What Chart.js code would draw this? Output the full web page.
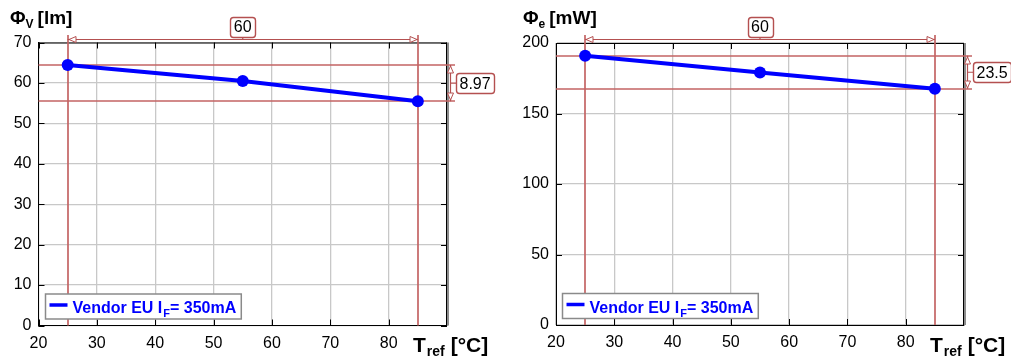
<!DOCTYPE html>
<html>
<head>
<meta charset="utf-8">
<script src="https://cdn.jsdelivr.net/npm/chart.js@4.4.1/dist/chart.umd.min.js"></script>
<style>
  html, body { margin: 0; padding: 0; background: #fff; }
  #wrap { position: relative; width: 1011px; height: 358px; overflow: hidden; }
  .pane { position: absolute; top: 0; width: 505px; height: 358px; }
</style>
</head>
<body>
<div id="wrap">
  <div class="pane" style="left:0"><canvas id="lum" width="505" height="358"></canvas></div>
  <div class="pane" style="left:506px"><canvas id="rad" width="505" height="358"></canvas></div>
</div>
<script>
  // measured points (reference temperature vs flux)
  var temps = [25, 55, 85];
  var fluxV = [64.42, 60.45, 55.45];   // lm
  var fluxE = [191.0, 179.0, 167.5];   // mW

  var xTicks = [20, 30, 40, 50, 60, 70, 80];
  var lumTicks = [0, 10, 20, 30, 40, 50, 60, 70];
  var radTicks = [0, 50, 100, 150, 200];

  var seriesName = ['Vendor EU I', 'F', '= 350mA'];
  var dimSpan = '60';
  var dimLum = '8.97';
  var dimRad = '23.5';

  var RED = 'rgb(196,100,100)';
  var RED_LIGHT = 'rgb(180,80,80)';
  var FONT = '"Liberation Sans", Arial, sans-serif';

  function richText(ctx, parts, x, y) {
    parts.forEach(function (p) {
      ctx.font = p.font;
      ctx.fillText(p.t, x, y + (p.dy || 0));
      x += ctx.measureText(p.t).width + (p.gap || 0);
    });
    return x;
  }

  function labelBox(ctx, text, cx, cy) {
    ctx.font = '16px ' + FONT;
    var w = ctx.measureText(text).width + 7, h = 20;
    ctx.beginPath();
    ctx.roundRect(Math.round(cx - w / 2) + 0.5, Math.round(cy - h / 2) + 0.5, Math.round(w), h, 3);
    ctx.fillStyle = '#fff';
    ctx.fill();
    ctx.strokeStyle = RED_LIGHT;
    ctx.lineWidth = 1.4;
    ctx.stroke();
    ctx.fillStyle = '#000';
    ctx.textAlign = 'center';
    ctx.textBaseline = 'middle';
    ctx.fillText(text, cx, cy + 1);
    return w;
  }

  function arrow(ctx, tx, ty, dx, dy) {
    // open triangle, tip at (tx,ty), pointing in direction (dx,dy)
    var len = 7, half = 3;
    var bx = tx - dx * len, by = ty - dy * len;
    ctx.beginPath();
    ctx.moveTo(tx, ty);
    ctx.lineTo(bx - dy * half, by + dx * half);
    ctx.lineTo(bx + dy * half, by - dx * half);
    ctx.closePath();
    ctx.fillStyle = '#fff';
    ctx.fill();
    ctx.strokeStyle = RED_LIGHT;
    ctx.lineWidth = 1;
    ctx.stroke();
  }

  function endPoints(chart) {
    var xs = chart.scales.x, ys = chart.scales.y;
    var vals = chart.data.datasets[0].data.map(function (d) { return d.y; });
    return {
      x0: xs.getPixelForValue(temps[0]),
      x1: xs.getPixelForValue(temps[temps.length - 1]),
      y0: ys.getPixelForValue(vals[0]),
      y1: ys.getPixelForValue(vals[vals.length - 1])
    };
  }

  var refPlugin = {
    id: 'refLines',
    beforeDatasetsDraw: function (chart, args, o) {
      var ctx = chart.ctx, a = chart.chartArea;
      var xs = chart.scales.x, ys = chart.scales.y;
      var p = endPoints(chart);
      ctx.save();

      // frame top/right + inner tick marks
      ctx.strokeStyle = '#000';
      ctx.lineWidth = 1;
      ctx.beginPath();
      ctx.moveTo(a.left, a.top + 0.5); ctx.lineTo(a.right, a.top + 0.5);
      ctx.moveTo(a.right - 0.5, a.top); ctx.lineTo(a.right - 0.5, a.bottom);
      xTicks.forEach(function (v) {
        var px = Math.round(xs.getPixelForValue(v)) + 0.5;
        ctx.moveTo(px, a.top); ctx.lineTo(px, a.top + 6);
        ctx.moveTo(px, a.bottom); ctx.lineTo(px, a.bottom - 6);
      });
      ys.ticks.forEach(function (t) {
        var py = Math.round(ys.getPixelForValue(t.value)) + 0.5;
        ctx.moveTo(a.left, py); ctx.lineTo(a.left + 6, py);
        ctx.moveTo(a.right, py); ctx.lineTo(a.right - 6, py);
      });
      ctx.stroke();
      ctx.strokeStyle = '#8c8c8c';
      ctx.lineWidth = 2;
      ctx.beginPath();
      ctx.moveTo(a.right + 1, a.top); ctx.lineTo(a.right + 1, a.bottom);
      ctx.stroke();

      // reference lines
      ctx.strokeStyle = RED;
      ctx.lineWidth = 1.7;
      ctx.beginPath();
      ctx.moveTo(Math.round(p.x0), 35); ctx.lineTo(Math.round(p.x0), a.bottom);
      ctx.moveTo(Math.round(p.x1), 35); ctx.lineTo(Math.round(p.x1), a.bottom);
      ctx.moveTo(a.left, Math.round(p.y0)); ctx.lineTo(a.right + 8, Math.round(p.y0));
      ctx.moveTo(a.left, Math.round(p.y1)); ctx.lineTo(a.right + 8, Math.round(p.y1));
      ctx.stroke();

      // dimension lines
      var dy = 39.5, dx = Math.round(a.right + 3) + 0.5;
      ctx.strokeStyle = RED_LIGHT;
      ctx.lineWidth = 1.2;
      ctx.beginPath();
      ctx.moveTo(p.x0, dy); ctx.lineTo(p.x1, dy);
      ctx.moveTo(dx, p.y0); ctx.lineTo(dx, p.y1);
      ctx.moveTo((p.x0 + p.x1) / 2, dy); ctx.lineTo((p.x0 + p.x1) / 2, dy - 3);
      ctx.moveTo(dx, (p.y0 + p.y1) / 2); ctx.lineTo(dx + 6, (p.y0 + p.y1) / 2);
      ctx.stroke();
      arrow(ctx, Math.round(p.x0) + 1, dy, -1, 0);
      arrow(ctx, Math.round(p.x1) - 1, dy, 1, 0);
      arrow(ctx, dx, Math.round(p.y0) + 1, 0, -1);
      arrow(ctx, dx, Math.round(p.y1) - 1, 0, 1);
      ctx.restore();
    },
    afterDraw: function (chart, args, o) {
      var ctx = chart.ctx, a = chart.chartArea;
      var p = endPoints(chart);
      ctx.save();

      // value boxes
      labelBox(ctx, dimSpan, (p.x0 + p.x1) / 2, 27);
      ctx.font = '16px ' + FONT;
      var w = ctx.measureText(o.dim).width + 7;
      labelBox(ctx, o.dim, a.right + 9 + w / 2, (p.y0 + p.y1) / 2);

      // legend
      ctx.font = 'bold 16px ' + FONT;
      var tw = ctx.measureText(seriesName[0] + seriesName[2]).width;
      ctx.font = 'bold 11px ' + FONT;
      tw += ctx.measureText(seriesName[1]).width;
      var lx = Math.round(a.left + 6) + 0.5, ly = a.bottom - 31.5;
      ctx.fillStyle = '#fff';
      ctx.fillRect(lx, ly, tw + 33, 25);
      ctx.strokeStyle = '#8a8a8a';
      ctx.lineWidth = 1.5;
      ctx.strokeRect(lx, ly, tw + 33, 25);
      ctx.strokeStyle = '#0000ff';
      ctx.lineWidth = 3.5;
      ctx.beginPath();
      ctx.moveTo(lx + 4, ly + 11); ctx.lineTo(lx + 22, ly + 11);
      ctx.stroke();
      ctx.fillStyle = '#0000ff';
      ctx.textAlign = 'left';
      ctx.textBaseline = 'alphabetic';
      richText(ctx, [
        { t: seriesName[0], font: 'bold 16px ' + FONT, gap: 1 },
        { t: seriesName[1], font: 'bold 11px ' + FONT, dy: 4 },
        { t: seriesName[2], font: 'bold 16px ' + FONT }
      ], lx + 27, ly + 19);

      // axis titles
      ctx.fillStyle = '#000';
      richText(ctx, [
        { t: 'Φ', font: 'bold 19px ' + FONT },
        { t: o.sub, font: 'bold 12px ' + FONT, dy: 4, gap: 4 },
        { t: o.unit, font: 'bold 19px ' + FONT }
      ], o.titleX, 24);
      richText(ctx, [
        { t: 'T', font: 'bold 21px ' + FONT, gap: 1 },
        { t: 'ref', font: 'bold 14px ' + FONT, dy: 4, gap: 6 },
        { t: '[°C]', font: 'bold 21px ' + FONT }
      ], a.right - 34, 352);
      ctx.restore();
    }
  };

  function makeChart(id, values, yMax, yTicks, box) {
    var ctx = document.getElementById(id).getContext('2d');
    return new Chart(ctx, {
      type: 'line',
      data: {
        datasets: [{
          data: temps.map(function (t, i) { return { x: t, y: values[i] }; }),
          borderColor: '#0000ff',
          backgroundColor: '#0000ff',
          borderWidth: 4,
          pointRadius: 6,
          pointHoverRadius: 6,
          pointBorderWidth: 0,
          tension: 0
        }]
      },
      options: {
        responsive: false,
        animation: false,
        devicePixelRatio: 1,
        layout: { padding: { top: box.top, right: box.right, left: 0, bottom: 0 } },
        plugins: {
          legend: { display: false },
          tooltip: { enabled: false },
          refLines: box.labels
        },
        scales: {
          x: {
            type: 'linear', min: 20, max: 90,
            afterBuildTicks: function (s) { s.ticks = xTicks.map(function (v) { return { value: v }; }); },
            afterFit: function (s) { s.height = 358 - box.bottom; },
            grid: { color: '#c8c8c8', lineWidth: 1.3, drawTicks: false },
            border: { color: '#000', width: 1 },
            ticks: { padding: 8, color: '#000', font: { family: FONT, size: 16 } }
          },
          y: {
            type: 'linear', min: 0, max: yMax,
            afterBuildTicks: function (s) { s.ticks = yTicks.map(function (v) { return { value: v }; }); },
            afterFit: function (s) { s.width = box.left; },
            grid: { color: '#c8c8c8', lineWidth: 1.3, drawTicks: false },
            border: { color: '#000', width: 1 },
            ticks: { padding: 7, color: '#000', font: { family: FONT, size: 16 } }
          }
        }
      },
      plugins: [refPlugin]
    });
  }

  makeChart('lum', fluxV, 70, lumTicks,
    { left: 38.5, right: 58, top: 42.5, bottom: 325.5,
      labels: { dim: dimLum, sub: 'V', unit: '[lm]', titleX: 10 } });
  makeChart('rad', fluxE, 200, radTicks,
    { left: 50, right: 47, top: 43, bottom: 325,
      labels: { dim: dimRad, sub: 'e', unit: '[mW]', titleX: 17 } });
</script>
</body>
</html>
